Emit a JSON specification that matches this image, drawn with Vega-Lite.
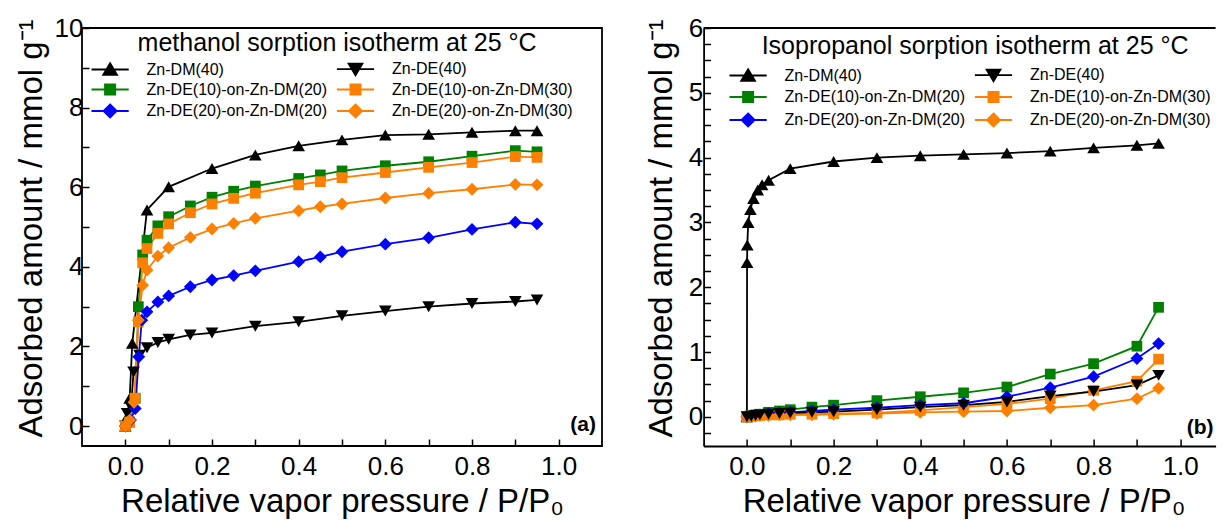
{
  "$schema": "https://vega.github.io/schema/vega-lite/v6.json",
  "background": "white",
  "autosize": {"type": "pad"},
  "padding": {"left": 14, "top": 14, "right": 0, "bottom": 0},
  "spacing": 101.6,
  "bounds": "flush",
  "config": {
    "font": "Liberation Sans",
    "view": {"stroke": "black", "strokeWidth": 1.8},
    "axis": {"grid": false, "domain": false, "domainColor": "black", "domainWidth": 1.8, "tickColor": "black", "tickWidth": 1.5, "tickSize": -7, "tickCount": 100, "labelFont": "Liberation Sans", "labelFontSize": 26, "labelColor": "black", "titleFont": "Liberation Sans", "titleFontSize": 33, "titleFontWeight": "normal", "titleColor": "black", "labelOverlap": false, "labelFlush": false},
    "legend": {"orient": "none", "direction": "horizontal", "columns": 2, "padding": 0, "titleFont": "Liberation Sans", "titleFontSize": 25, "titleFontWeight": "normal", "titleColor": "black", "titleAnchor": "middle", "titleLimit": 2000, "labelFont": "Liberation Sans", "labelFontSize": 16, "labelColor": "black", "labelLimit": 500, "labelOffset": 28.5, "symbolSize": 144, "columnPadding": 5.4, "symbolStrokeWidth": 1.8, "symbolOpacity": 1}
  },
  "datasets": {
    "methanol": [
      {"s": "Zn-DM(40)", "x": 0, "y": 0}, {"s": "Zn-DM(40)", "x": 0.005, "y": 0.25}, {"s": "Zn-DM(40)", "x": 0.01, "y": 0.7}, {"s": "Zn-DM(40)", "x": 0.016, "y": 2.08}, {"s": "Zn-DM(40)", "x": 0.05, "y": 5.43}, {"s": "Zn-DM(40)", "x": 0.1, "y": 6.01}, {"s": "Zn-DM(40)", "x": 0.2, "y": 6.47}, {"s": "Zn-DM(40)", "x": 0.3, "y": 6.81}, {"s": "Zn-DM(40)", "x": 0.4, "y": 7.04}, {"s": "Zn-DM(40)", "x": 0.5, "y": 7.19}, {"s": "Zn-DM(40)", "x": 0.6, "y": 7.31}, {"s": "Zn-DM(40)", "x": 0.7, "y": 7.33}, {"s": "Zn-DM(40)", "x": 0.8, "y": 7.38}, {"s": "Zn-DM(40)", "x": 0.9, "y": 7.42}, {"s": "Zn-DM(40)", "x": 0.95, "y": 7.42},
      {"s": "Zn-DE(40)", "x": 0, "y": 0}, {"s": "Zn-DE(40)", "x": 0.004, "y": 0.32}, {"s": "Zn-DE(40)", "x": 0.013, "y": 0.47}, {"s": "Zn-DE(40)", "x": 0.019, "y": 1.36}, {"s": "Zn-DE(40)", "x": 0.033, "y": 1.78}, {"s": "Zn-DE(40)", "x": 0.05, "y": 1.97}, {"s": "Zn-DE(40)", "x": 0.075, "y": 2.1}, {"s": "Zn-DE(40)", "x": 0.1, "y": 2.18}, {"s": "Zn-DE(40)", "x": 0.15, "y": 2.29}, {"s": "Zn-DE(40)", "x": 0.2, "y": 2.34}, {"s": "Zn-DE(40)", "x": 0.3, "y": 2.51}, {"s": "Zn-DE(40)", "x": 0.4, "y": 2.62}, {"s": "Zn-DE(40)", "x": 0.5, "y": 2.77}, {"s": "Zn-DE(40)", "x": 0.6, "y": 2.89}, {"s": "Zn-DE(40)", "x": 0.7, "y": 3.0}, {"s": "Zn-DE(40)", "x": 0.8, "y": 3.08}, {"s": "Zn-DE(40)", "x": 0.9, "y": 3.13}, {"s": "Zn-DE(40)", "x": 0.95, "y": 3.17},
      {"s": "Zn-DE(10)-on-Zn-DM(20)", "x": 0, "y": 0}, {"s": "Zn-DE(10)-on-Zn-DM(20)", "x": 0.01, "y": 0.1}, {"s": "Zn-DE(10)-on-Zn-DM(20)", "x": 0.023, "y": 0.7}, {"s": "Zn-DE(10)-on-Zn-DM(20)", "x": 0.03, "y": 3.0}, {"s": "Zn-DE(10)-on-Zn-DM(20)", "x": 0.04, "y": 4.3}, {"s": "Zn-DE(10)-on-Zn-DM(20)", "x": 0.05, "y": 4.67}, {"s": "Zn-DE(10)-on-Zn-DM(20)", "x": 0.075, "y": 5.03}, {"s": "Zn-DE(10)-on-Zn-DM(20)", "x": 0.1, "y": 5.26}, {"s": "Zn-DE(10)-on-Zn-DM(20)", "x": 0.15, "y": 5.53}, {"s": "Zn-DE(10)-on-Zn-DM(20)", "x": 0.2, "y": 5.75}, {"s": "Zn-DE(10)-on-Zn-DM(20)", "x": 0.25, "y": 5.9}, {"s": "Zn-DE(10)-on-Zn-DM(20)", "x": 0.3, "y": 6.03}, {"s": "Zn-DE(10)-on-Zn-DM(20)", "x": 0.4, "y": 6.22}, {"s": "Zn-DE(10)-on-Zn-DM(20)", "x": 0.45, "y": 6.31}, {"s": "Zn-DE(10)-on-Zn-DM(20)", "x": 0.5, "y": 6.41}, {"s": "Zn-DE(10)-on-Zn-DM(20)", "x": 0.6, "y": 6.54}, {"s": "Zn-DE(10)-on-Zn-DM(20)", "x": 0.7, "y": 6.64}, {"s": "Zn-DE(10)-on-Zn-DM(20)", "x": 0.8, "y": 6.78}, {"s": "Zn-DE(10)-on-Zn-DM(20)", "x": 0.9, "y": 6.92}, {"s": "Zn-DE(10)-on-Zn-DM(20)", "x": 0.95, "y": 6.89},
      {"s": "Zn-DE(10)-on-Zn-DM(30)", "x": 0, "y": 0}, {"s": "Zn-DE(10)-on-Zn-DM(30)", "x": 0.01, "y": 0.1}, {"s": "Zn-DE(10)-on-Zn-DM(30)", "x": 0.022, "y": 0.7}, {"s": "Zn-DE(10)-on-Zn-DM(30)", "x": 0.03, "y": 2.62}, {"s": "Zn-DE(10)-on-Zn-DM(30)", "x": 0.04, "y": 4.1}, {"s": "Zn-DE(10)-on-Zn-DM(30)", "x": 0.05, "y": 4.46}, {"s": "Zn-DE(10)-on-Zn-DM(30)", "x": 0.075, "y": 4.84}, {"s": "Zn-DE(10)-on-Zn-DM(30)", "x": 0.1, "y": 5.08}, {"s": "Zn-DE(10)-on-Zn-DM(30)", "x": 0.15, "y": 5.36}, {"s": "Zn-DE(10)-on-Zn-DM(30)", "x": 0.2, "y": 5.58}, {"s": "Zn-DE(10)-on-Zn-DM(30)", "x": 0.25, "y": 5.72}, {"s": "Zn-DE(10)-on-Zn-DM(30)", "x": 0.3, "y": 5.85}, {"s": "Zn-DE(10)-on-Zn-DM(30)", "x": 0.4, "y": 6.06}, {"s": "Zn-DE(10)-on-Zn-DM(30)", "x": 0.45, "y": 6.14}, {"s": "Zn-DE(10)-on-Zn-DM(30)", "x": 0.5, "y": 6.24}, {"s": "Zn-DE(10)-on-Zn-DM(30)", "x": 0.6, "y": 6.37}, {"s": "Zn-DE(10)-on-Zn-DM(30)", "x": 0.7, "y": 6.5}, {"s": "Zn-DE(10)-on-Zn-DM(30)", "x": 0.8, "y": 6.62}, {"s": "Zn-DE(10)-on-Zn-DM(30)", "x": 0.9, "y": 6.77}, {"s": "Zn-DE(10)-on-Zn-DM(30)", "x": 0.95, "y": 6.75},
      {"s": "Zn-DE(20)-on-Zn-DM(20)", "x": 0, "y": 0}, {"s": "Zn-DE(20)-on-Zn-DM(20)", "x": 0.012, "y": 0.15}, {"s": "Zn-DE(20)-on-Zn-DM(20)", "x": 0.023, "y": 0.44}, {"s": "Zn-DE(20)-on-Zn-DM(20)", "x": 0.031, "y": 1.74}, {"s": "Zn-DE(20)-on-Zn-DM(20)", "x": 0.038, "y": 2.66}, {"s": "Zn-DE(20)-on-Zn-DM(20)", "x": 0.05, "y": 2.87}, {"s": "Zn-DE(20)-on-Zn-DM(20)", "x": 0.075, "y": 3.12}, {"s": "Zn-DE(20)-on-Zn-DM(20)", "x": 0.1, "y": 3.27}, {"s": "Zn-DE(20)-on-Zn-DM(20)", "x": 0.15, "y": 3.5}, {"s": "Zn-DE(20)-on-Zn-DM(20)", "x": 0.2, "y": 3.67}, {"s": "Zn-DE(20)-on-Zn-DM(20)", "x": 0.25, "y": 3.78}, {"s": "Zn-DE(20)-on-Zn-DM(20)", "x": 0.3, "y": 3.9}, {"s": "Zn-DE(20)-on-Zn-DM(20)", "x": 0.4, "y": 4.13}, {"s": "Zn-DE(20)-on-Zn-DM(20)", "x": 0.45, "y": 4.25}, {"s": "Zn-DE(20)-on-Zn-DM(20)", "x": 0.5, "y": 4.38}, {"s": "Zn-DE(20)-on-Zn-DM(20)", "x": 0.6, "y": 4.57}, {"s": "Zn-DE(20)-on-Zn-DM(20)", "x": 0.7, "y": 4.73}, {"s": "Zn-DE(20)-on-Zn-DM(20)", "x": 0.8, "y": 4.94}, {"s": "Zn-DE(20)-on-Zn-DM(20)", "x": 0.9, "y": 5.12}, {"s": "Zn-DE(20)-on-Zn-DM(20)", "x": 0.95, "y": 5.08},
      {"s": "Zn-DE(20)-on-Zn-DM(30)", "x": 0, "y": 0}, {"s": "Zn-DE(20)-on-Zn-DM(30)", "x": 0.01, "y": 0.15}, {"s": "Zn-DE(20)-on-Zn-DM(30)", "x": 0.02, "y": 0.6}, {"s": "Zn-DE(20)-on-Zn-DM(30)", "x": 0.03, "y": 2.66}, {"s": "Zn-DE(20)-on-Zn-DM(30)", "x": 0.04, "y": 3.54}, {"s": "Zn-DE(20)-on-Zn-DM(30)", "x": 0.05, "y": 3.92}, {"s": "Zn-DE(20)-on-Zn-DM(30)", "x": 0.075, "y": 4.27}, {"s": "Zn-DE(20)-on-Zn-DM(30)", "x": 0.1, "y": 4.48}, {"s": "Zn-DE(20)-on-Zn-DM(30)", "x": 0.15, "y": 4.74}, {"s": "Zn-DE(20)-on-Zn-DM(30)", "x": 0.2, "y": 4.95}, {"s": "Zn-DE(20)-on-Zn-DM(30)", "x": 0.25, "y": 5.09}, {"s": "Zn-DE(20)-on-Zn-DM(30)", "x": 0.3, "y": 5.22}, {"s": "Zn-DE(20)-on-Zn-DM(30)", "x": 0.4, "y": 5.41}, {"s": "Zn-DE(20)-on-Zn-DM(30)", "x": 0.45, "y": 5.51}, {"s": "Zn-DE(20)-on-Zn-DM(30)", "x": 0.5, "y": 5.58}, {"s": "Zn-DE(20)-on-Zn-DM(30)", "x": 0.6, "y": 5.73}, {"s": "Zn-DE(20)-on-Zn-DM(30)", "x": 0.7, "y": 5.85}, {"s": "Zn-DE(20)-on-Zn-DM(30)", "x": 0.8, "y": 5.95}, {"s": "Zn-DE(20)-on-Zn-DM(30)", "x": 0.9, "y": 6.07}, {"s": "Zn-DE(20)-on-Zn-DM(30)", "x": 0.95, "y": 6.06}
    ],
    "ipa": [
      {"s": "Zn-DM(40)", "x": 0, "y": 0}, {"s": "Zn-DM(40)", "x": 0.0003, "y": 2.38}, {"s": "Zn-DM(40)", "x": 0.0008, "y": 2.65}, {"s": "Zn-DM(40)", "x": 0.003, "y": 3.0}, {"s": "Zn-DM(40)", "x": 0.008, "y": 3.2}, {"s": "Zn-DM(40)", "x": 0.015, "y": 3.37}, {"s": "Zn-DM(40)", "x": 0.025, "y": 3.5}, {"s": "Zn-DM(40)", "x": 0.035, "y": 3.58}, {"s": "Zn-DM(40)", "x": 0.05, "y": 3.65}, {"s": "Zn-DM(40)", "x": 0.1, "y": 3.83}, {"s": "Zn-DM(40)", "x": 0.2, "y": 3.94}, {"s": "Zn-DM(40)", "x": 0.3, "y": 4.0}, {"s": "Zn-DM(40)", "x": 0.4, "y": 4.03}, {"s": "Zn-DM(40)", "x": 0.5, "y": 4.05}, {"s": "Zn-DM(40)", "x": 0.6, "y": 4.07}, {"s": "Zn-DM(40)", "x": 0.7, "y": 4.1}, {"s": "Zn-DM(40)", "x": 0.8, "y": 4.15}, {"s": "Zn-DM(40)", "x": 0.9, "y": 4.19}, {"s": "Zn-DM(40)", "x": 0.95, "y": 4.22},
      {"s": "Zn-DE(10)-on-Zn-DM(20)", "x": 0, "y": 0}, {"s": "Zn-DE(10)-on-Zn-DM(20)", "x": 0.01, "y": 0.02}, {"s": "Zn-DE(10)-on-Zn-DM(20)", "x": 0.02, "y": 0.03}, {"s": "Zn-DE(10)-on-Zn-DM(20)", "x": 0.03, "y": 0.04}, {"s": "Zn-DE(10)-on-Zn-DM(20)", "x": 0.05, "y": 0.07}, {"s": "Zn-DE(10)-on-Zn-DM(20)", "x": 0.075, "y": 0.09}, {"s": "Zn-DE(10)-on-Zn-DM(20)", "x": 0.1, "y": 0.11}, {"s": "Zn-DE(10)-on-Zn-DM(20)", "x": 0.15, "y": 0.15}, {"s": "Zn-DE(10)-on-Zn-DM(20)", "x": 0.2, "y": 0.18}, {"s": "Zn-DE(10)-on-Zn-DM(20)", "x": 0.3, "y": 0.25}, {"s": "Zn-DE(10)-on-Zn-DM(20)", "x": 0.4, "y": 0.31}, {"s": "Zn-DE(10)-on-Zn-DM(20)", "x": 0.5, "y": 0.37}, {"s": "Zn-DE(10)-on-Zn-DM(20)", "x": 0.6, "y": 0.46}, {"s": "Zn-DE(10)-on-Zn-DM(20)", "x": 0.7, "y": 0.66}, {"s": "Zn-DE(10)-on-Zn-DM(20)", "x": 0.8, "y": 0.82}, {"s": "Zn-DE(10)-on-Zn-DM(20)", "x": 0.9, "y": 1.09}, {"s": "Zn-DE(10)-on-Zn-DM(20)", "x": 0.95, "y": 1.69},
      {"s": "Zn-DE(20)-on-Zn-DM(20)", "x": 0, "y": 0}, {"s": "Zn-DE(20)-on-Zn-DM(20)", "x": 0.01, "y": 0.01}, {"s": "Zn-DE(20)-on-Zn-DM(20)", "x": 0.02, "y": 0.02}, {"s": "Zn-DE(20)-on-Zn-DM(20)", "x": 0.03, "y": 0.03}, {"s": "Zn-DE(20)-on-Zn-DM(20)", "x": 0.05, "y": 0.05}, {"s": "Zn-DE(20)-on-Zn-DM(20)", "x": 0.075, "y": 0.06}, {"s": "Zn-DE(20)-on-Zn-DM(20)", "x": 0.1, "y": 0.07}, {"s": "Zn-DE(20)-on-Zn-DM(20)", "x": 0.15, "y": 0.09}, {"s": "Zn-DE(20)-on-Zn-DM(20)", "x": 0.2, "y": 0.11}, {"s": "Zn-DE(20)-on-Zn-DM(20)", "x": 0.3, "y": 0.14}, {"s": "Zn-DE(20)-on-Zn-DM(20)", "x": 0.4, "y": 0.18}, {"s": "Zn-DE(20)-on-Zn-DM(20)", "x": 0.5, "y": 0.21}, {"s": "Zn-DE(20)-on-Zn-DM(20)", "x": 0.6, "y": 0.31}, {"s": "Zn-DE(20)-on-Zn-DM(20)", "x": 0.7, "y": 0.45}, {"s": "Zn-DE(20)-on-Zn-DM(20)", "x": 0.8, "y": 0.62}, {"s": "Zn-DE(20)-on-Zn-DM(20)", "x": 0.9, "y": 0.9}, {"s": "Zn-DE(20)-on-Zn-DM(20)", "x": 0.95, "y": 1.13},
      {"s": "Zn-DE(10)-on-Zn-DM(30)", "x": 0, "y": 0}, {"s": "Zn-DE(10)-on-Zn-DM(30)", "x": 0.01, "y": 0.01}, {"s": "Zn-DE(10)-on-Zn-DM(30)", "x": 0.02, "y": 0.02}, {"s": "Zn-DE(10)-on-Zn-DM(30)", "x": 0.03, "y": 0.02}, {"s": "Zn-DE(10)-on-Zn-DM(30)", "x": 0.05, "y": 0.03}, {"s": "Zn-DE(10)-on-Zn-DM(30)", "x": 0.075, "y": 0.03}, {"s": "Zn-DE(10)-on-Zn-DM(30)", "x": 0.1, "y": 0.04}, {"s": "Zn-DE(10)-on-Zn-DM(30)", "x": 0.15, "y": 0.04}, {"s": "Zn-DE(10)-on-Zn-DM(30)", "x": 0.2, "y": 0.05}, {"s": "Zn-DE(10)-on-Zn-DM(30)", "x": 0.3, "y": 0.06}, {"s": "Zn-DE(10)-on-Zn-DM(30)", "x": 0.4, "y": 0.1}, {"s": "Zn-DE(10)-on-Zn-DM(30)", "x": 0.5, "y": 0.15}, {"s": "Zn-DE(10)-on-Zn-DM(30)", "x": 0.6, "y": 0.2}, {"s": "Zn-DE(10)-on-Zn-DM(30)", "x": 0.7, "y": 0.28}, {"s": "Zn-DE(10)-on-Zn-DM(30)", "x": 0.8, "y": 0.41}, {"s": "Zn-DE(10)-on-Zn-DM(30)", "x": 0.9, "y": 0.55}, {"s": "Zn-DE(10)-on-Zn-DM(30)", "x": 0.95, "y": 0.89},
      {"s": "Zn-DE(40)", "x": 0, "y": 0}, {"s": "Zn-DE(40)", "x": 0.01, "y": 0.01}, {"s": "Zn-DE(40)", "x": 0.02, "y": 0.02}, {"s": "Zn-DE(40)", "x": 0.03, "y": 0.03}, {"s": "Zn-DE(40)", "x": 0.05, "y": 0.04}, {"s": "Zn-DE(40)", "x": 0.075, "y": 0.05}, {"s": "Zn-DE(40)", "x": 0.1, "y": 0.06}, {"s": "Zn-DE(40)", "x": 0.15, "y": 0.07}, {"s": "Zn-DE(40)", "x": 0.2, "y": 0.08}, {"s": "Zn-DE(40)", "x": 0.3, "y": 0.11}, {"s": "Zn-DE(40)", "x": 0.4, "y": 0.15}, {"s": "Zn-DE(40)", "x": 0.5, "y": 0.18}, {"s": "Zn-DE(40)", "x": 0.6, "y": 0.23}, {"s": "Zn-DE(40)", "x": 0.7, "y": 0.32}, {"s": "Zn-DE(40)", "x": 0.8, "y": 0.39}, {"s": "Zn-DE(40)", "x": 0.9, "y": 0.49}, {"s": "Zn-DE(40)", "x": 0.95, "y": 0.64},
      {"s": "Zn-DE(20)-on-Zn-DM(30)", "x": 0, "y": 0}, {"s": "Zn-DE(20)-on-Zn-DM(30)", "x": 0.01, "y": 0.01}, {"s": "Zn-DE(20)-on-Zn-DM(30)", "x": 0.02, "y": 0.01}, {"s": "Zn-DE(20)-on-Zn-DM(30)", "x": 0.03, "y": 0.02}, {"s": "Zn-DE(20)-on-Zn-DM(30)", "x": 0.05, "y": 0.02}, {"s": "Zn-DE(20)-on-Zn-DM(30)", "x": 0.075, "y": 0.03}, {"s": "Zn-DE(20)-on-Zn-DM(30)", "x": 0.1, "y": 0.03}, {"s": "Zn-DE(20)-on-Zn-DM(30)", "x": 0.15, "y": 0.03}, {"s": "Zn-DE(20)-on-Zn-DM(30)", "x": 0.2, "y": 0.04}, {"s": "Zn-DE(20)-on-Zn-DM(30)", "x": 0.3, "y": 0.05}, {"s": "Zn-DE(20)-on-Zn-DM(30)", "x": 0.4, "y": 0.07}, {"s": "Zn-DE(20)-on-Zn-DM(30)", "x": 0.5, "y": 0.08}, {"s": "Zn-DE(20)-on-Zn-DM(30)", "x": 0.6, "y": 0.09}, {"s": "Zn-DE(20)-on-Zn-DM(30)", "x": 0.7, "y": 0.14}, {"s": "Zn-DE(20)-on-Zn-DM(30)", "x": 0.8, "y": 0.18}, {"s": "Zn-DE(20)-on-Zn-DM(30)", "x": 0.9, "y": 0.28}, {"s": "Zn-DE(20)-on-Zn-DM(30)", "x": 0.95, "y": 0.44}
    ]
  },
  "resolve": {
    "scale": {"x": "independent", "y": "independent", "color": "independent", "stroke": "independent", "shape": "independent"},
    "legend": {"color": "independent", "stroke": "independent", "shape": "independent"}
  },
  "hconcat": [
    {
      "width": 520, "height": 418,
      "data": {"name": "methanol"},
      "layer": [
        {
          "mark": {"type": "line", "strokeWidth": 1.8},
          "encoding": {
            "x": {"field": "x", "type": "quantitative", "scale": {"domain": [-0.1, 1.1], "nice": false, "zero": false},
                  "axis": {"values": [0, 0.1, 0.2, 0.3, 0.4, 0.5, 0.6, 0.7, 0.8, 0.9, 1.0], "labelExpr": "round(datum.value*10) % 2 == 0 ? format(datum.value, '.1f') : ''", "title": "Relative vapor pressure / P/P₀", "labelPadding": 14, "titlePadding": 6}},
            "y": {"field": "y", "type": "quantitative", "scale": {"domain": [-0.5, 10], "nice": false, "zero": false},
                  "axis": {"values": [0, 1, 2, 3, 4, 5, 6, 7, 8, 9, 10], "labelExpr": "datum.value % 2 == 0 ? format(datum.value, '.0f') : ''", "title": "Adsorbed amount / mmol g⁻¹", "labelPadding": 6, "titlePadding": 6, "titleY": 200}},
            "stroke": {"field": "s", "type": "nominal", "scale": {"domain": ["Zn-DM(40)", "Zn-DE(40)", "Zn-DE(10)-on-Zn-DM(20)", "Zn-DE(10)-on-Zn-DM(30)", "Zn-DE(20)-on-Zn-DM(20)", "Zn-DE(20)-on-Zn-DM(30)"], "range": ["#000000", "#000000", "#008000", "#ff8000", "#0000ff", "#ff8000"]}}
          }
        },
        {
          "transform": [{"filter": "false"}],
          "mark": {"type": "point", "filled": true, "opacity": 1, "size": 144},
          "encoding": {
            "color": {"field": "s", "type": "nominal", "scale": {"domain": ["Zn-DM(40)", "Zn-DE(40)", "Zn-DE(10)-on-Zn-DM(20)", "Zn-DE(10)-on-Zn-DM(30)", "Zn-DE(20)-on-Zn-DM(20)", "Zn-DE(20)-on-Zn-DM(30)"], "range": ["#000000", "#000000", "#008000", "#ff8000", "#0000ff", "#ff8000"]},
              "legend": {"title": "methanol sorption isotherm at 25 °C", "orient": "none", "direction": "horizontal", "legendX": 20.1, "legendY": 3, "titlePadding": 5, "rowPadding": 1.5}},
            "stroke": {"field": "s", "type": "nominal",
              "legend": {"title": "methanol sorption isotherm at 25 °C", "orient": "none", "direction": "horizontal", "legendX": 20.1, "legendY": 3, "titlePadding": 5, "rowPadding": 1.5}},
            "shape": {"field": "s", "type": "nominal", "scale": {"domain": ["Zn-DM(40)", "Zn-DE(40)", "Zn-DE(10)-on-Zn-DM(20)", "Zn-DE(10)-on-Zn-DM(30)", "Zn-DE(20)-on-Zn-DM(20)", "Zn-DE(20)-on-Zn-DM(30)"], "range": ["M-3.1,0H3.1M0,-1.05L1.15,0.9H-1.15Z", "M-3.1,0H3.1M0,1.05L1.15,-0.9H-1.15Z", "M-3.1,0H3.1M-0.85,-0.85H0.85V0.85H-0.85Z", "M-3.1,0H3.1M-0.85,-0.85H0.85V0.85H-0.85Z", "M-3.1,0H3.1M0,-1.1L1.1,0L0,1.1L-1.1,0Z", "M-3.1,0H3.1M0,-1.1L1.1,0L0,1.1L-1.1,0Z"]},
              "legend": {"title": "methanol sorption isotherm at 25 °C", "orient": "none", "direction": "horizontal", "legendX": 20.1, "legendY": 3, "titlePadding": 5, "rowPadding": 1.5}}
          }
        },
        {
          "transform": [{"filter": "datum.s === 'Zn-DM(40)'"}],
          "mark": {"type": "point", "filled": true, "opacity": 1, "shape": "triangle-up", "size": 160},
          "encoding": {"x": {"field": "x", "type": "quantitative"}, "y": {"field": "y", "type": "quantitative"}, "color": {"field": "s", "type": "nominal"}}
        },
        {
          "transform": [{"filter": "datum.s === 'Zn-DE(40)'"}],
          "mark": {"type": "point", "filled": true, "opacity": 1, "shape": "triangle-down", "size": 160},
          "encoding": {"x": {"field": "x", "type": "quantitative"}, "y": {"field": "y", "type": "quantitative"}, "color": {"field": "s", "type": "nominal"}}
        },
        {
          "transform": [{"filter": "datum.s === 'Zn-DE(10)-on-Zn-DM(20)' || datum.s === 'Zn-DE(10)-on-Zn-DM(30)'"}],
          "mark": {"type": "point", "filled": true, "opacity": 1, "shape": "square", "size": 115},
          "encoding": {"x": {"field": "x", "type": "quantitative"}, "y": {"field": "y", "type": "quantitative"}, "color": {"field": "s", "type": "nominal"}}
        },
        {
          "transform": [{"filter": "datum.s === 'Zn-DE(20)-on-Zn-DM(20)' || datum.s === 'Zn-DE(20)-on-Zn-DM(30)'"}],
          "mark": {"type": "point", "filled": true, "opacity": 1, "shape": "diamond", "size": 165},
          "encoding": {"x": {"field": "x", "type": "quantitative"}, "y": {"field": "y", "type": "quantitative"}, "color": {"field": "s", "type": "nominal"}}
        },
        {
          "data": {"values": [{"label": "(a)"}]},
          "mark": {"type": "text", "align": "left", "baseline": "middle", "fontSize": 21, "fontWeight": "bold", "font": "Liberation Sans", "color": "black", "clip": true},
          "encoding": {
            "x": {"datum": 1.027, "type": "quantitative"},
            "y": {"datum": 0.03, "type": "quantitative"},
            "text": {"field": "label"}
          }
        }
      ]
    },
    {
      "width": 512, "height": 418,
      "view": {"stroke": null},
      "data": {"name": "ipa"},
      "layer": [
        {
          "mark": {"type": "line", "strokeWidth": 1.8},
          "encoding": {
            "x": {"field": "x", "type": "quantitative", "scale": {"domain": [-0.1, 1.0816], "nice": false, "zero": false},
                  "axis": {"domain": true, "values": [0, 0.1, 0.2, 0.3, 0.4, 0.5, 0.6, 0.7, 0.8, 0.9, 1.0], "labelExpr": "round(datum.value*10) % 2 == 0 ? format(datum.value, '.1f') : ''", "title": "Relative vapor pressure / P/P₀", "labelPadding": 14, "titlePadding": 6, "titleX": 260}},
            "y": {"field": "y", "type": "quantitative", "scale": {"domain": [-0.45, 6], "nice": false, "zero": false},
                  "axis": {"domain": true, "values": [-0.25, 0, 0.25, 0.5, 0.75, 1, 1.25, 1.5, 1.75, 2, 2.25, 2.5, 2.75, 3, 3.25, 3.5, 3.75, 4, 4.25, 4.5, 4.75, 5, 5.25, 5.5, 5.75, 6], "labelExpr": "datum.value == round(datum.value) ? format(datum.value, '.0f') : ''", "title": "Adsorbed amount / mmol g⁻¹", "labelPadding": 8, "titlePadding": 10, "titleY": 200}},
            "stroke": {"field": "s", "type": "nominal", "scale": {"domain": ["Zn-DM(40)", "Zn-DE(40)", "Zn-DE(10)-on-Zn-DM(20)", "Zn-DE(10)-on-Zn-DM(30)", "Zn-DE(20)-on-Zn-DM(20)", "Zn-DE(20)-on-Zn-DM(30)"], "range": ["#000000", "#000000", "#008000", "#ff8000", "#0000ff", "#ff8000"]}}
          }
        },
        {
          "transform": [{"filter": "false"}],
          "mark": {"type": "point", "filled": true, "opacity": 1, "size": 144},
          "encoding": {
            "color": {"field": "s", "type": "nominal", "scale": {"domain": ["Zn-DM(40)", "Zn-DE(40)", "Zn-DE(10)-on-Zn-DM(20)", "Zn-DE(10)-on-Zn-DM(30)", "Zn-DE(20)-on-Zn-DM(20)", "Zn-DE(20)-on-Zn-DM(30)"], "range": ["#000000", "#000000", "#008000", "#ff8000", "#0000ff", "#ff8000"]},
              "legend": {"title": "Isopropanol sorption isotherm at 25 °C", "orient": "none", "direction": "horizontal", "legendX": 36.5, "legendY": 6, "titlePadding": 8, "rowPadding": 3}},
            "stroke": {"field": "s", "type": "nominal",
              "legend": {"title": "Isopropanol sorption isotherm at 25 °C", "orient": "none", "direction": "horizontal", "legendX": 36.5, "legendY": 6, "titlePadding": 8, "rowPadding": 3}},
            "shape": {"field": "s", "type": "nominal", "scale": {"domain": ["Zn-DM(40)", "Zn-DE(40)", "Zn-DE(10)-on-Zn-DM(20)", "Zn-DE(10)-on-Zn-DM(30)", "Zn-DE(20)-on-Zn-DM(20)", "Zn-DE(20)-on-Zn-DM(30)"], "range": ["M-3.1,0H3.1M0,-1.05L1.15,0.9H-1.15Z", "M-3.1,0H3.1M0,1.05L1.15,-0.9H-1.15Z", "M-3.1,0H3.1M-0.85,-0.85H0.85V0.85H-0.85Z", "M-3.1,0H3.1M-0.85,-0.85H0.85V0.85H-0.85Z", "M-3.1,0H3.1M0,-1.1L1.1,0L0,1.1L-1.1,0Z", "M-3.1,0H3.1M0,-1.1L1.1,0L0,1.1L-1.1,0Z"]},
              "legend": {"title": "Isopropanol sorption isotherm at 25 °C", "orient": "none", "direction": "horizontal", "legendX": 36.5, "legendY": 6, "titlePadding": 8, "rowPadding": 3}}
          }
        },
        {
          "transform": [{"filter": "datum.s === 'Zn-DM(40)'"}],
          "mark": {"type": "point", "filled": true, "opacity": 1, "shape": "triangle-up", "size": 160},
          "encoding": {"x": {"field": "x", "type": "quantitative"}, "y": {"field": "y", "type": "quantitative"}, "color": {"field": "s", "type": "nominal"}}
        },
        {
          "transform": [{"filter": "datum.s === 'Zn-DE(10)-on-Zn-DM(20)' || datum.s === 'Zn-DE(10)-on-Zn-DM(30)'"}],
          "mark": {"type": "point", "filled": true, "opacity": 1, "shape": "square", "size": 115},
          "encoding": {"x": {"field": "x", "type": "quantitative"}, "y": {"field": "y", "type": "quantitative"}, "color": {"field": "s", "type": "nominal"}}
        },
        {
          "transform": [{"filter": "datum.s === 'Zn-DE(20)-on-Zn-DM(20)' || datum.s === 'Zn-DE(20)-on-Zn-DM(30)'"}],
          "mark": {"type": "point", "filled": true, "opacity": 1, "shape": "diamond", "size": 165},
          "encoding": {"x": {"field": "x", "type": "quantitative"}, "y": {"field": "y", "type": "quantitative"}, "color": {"field": "s", "type": "nominal"}}
        },
        {
          "transform": [{"filter": "datum.s === 'Zn-DE(40)'"}],
          "mark": {"type": "point", "filled": true, "opacity": 1, "shape": "triangle-down", "size": 160},
          "encoding": {"x": {"field": "x", "type": "quantitative"}, "y": {"field": "y", "type": "quantitative"}, "color": {"field": "s", "type": "nominal"}}
        },
        {
          "data": {"values": [{"label": "top"}]},
          "mark": {"type": "rule", "strokeWidth": 1.8, "color": "black"},
          "encoding": {"y": {"datum": 6, "type": "quantitative"}}
        },
        {
          "data": {"values": [{"label": "(b)"}]},
          "mark": {"type": "text", "align": "left", "baseline": "middle", "fontSize": 21, "fontWeight": "bold", "font": "Liberation Sans", "color": "black", "clip": true},
          "encoding": {
            "x": {"datum": 1.015, "type": "quantitative"},
            "y": {"datum": -0.17, "type": "quantitative"},
            "text": {"field": "label"}
          }
        }
      ]
    }
  ]
}
